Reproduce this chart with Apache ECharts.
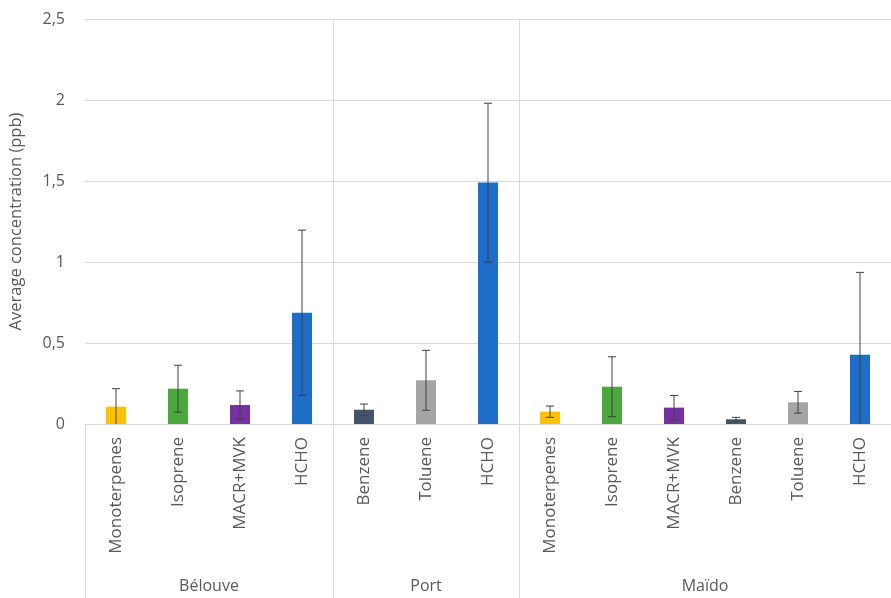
<!DOCTYPE html>
<html>
<head>
<meta charset="utf-8">
<script src="https://cdn.jsdelivr.net/npm/echarts@6/dist/echarts.min.js"></script>
<style>
  html, body { margin: 0; padding: 0; background: #fff; }
  #chart { width: 891px; height: 598px; }
</style>
</head>
<body>
<div id="chart"></div>
<script>
// Compounds measured at each site (site order: Bélouve, Port, Maïdo)
const categories = [
  'Monoterpenes', 'Isoprene', 'MACR+MVK', 'HCHO',
  'Benzene', 'Toluene', 'HCHO',
  'Monoterpenes', 'Isoprene', 'MACR+MVK', 'Benzene', 'Toluene', 'HCHO'
];
const sites = ['Bélouve', 'Port', 'Maïdo'];
const siteSizes = [4, 3, 6];

// Mean concentrations (ppb) and standard deviations
const means = [0.107, 0.218, 0.117, 0.687, 0.088, 0.27, 1.49, 0.076, 0.23, 0.101, 0.029, 0.134, 0.428];
const stdDevs = [0.111, 0.145, 0.087, 0.51, 0.035, 0.185, 0.49, 0.035, 0.185, 0.075, 0.012, 0.067, 0.508];

const yTicks = [0, 0.5, 1, 1.5, 2, 2.5];

// Colour per compound
const compoundColors = {
  'Monoterpenes': '#FFC000',
  'Isoprene': '#4AA83C',
  'MACR+MVK': '#7530A3',
  'HCHO': '#1E6DC8',
  'Benzene': '#44546A',
  'Toluene': '#A5A5A5'
};

const FONT = '"Open Sans", "Noto Sans", sans-serif';
const TEXT = '#595959';
const LINE = '#d9d9d9';

const chart = echarts.init(document.getElementById('chart'), null, { renderer: 'canvas' });

const barData = means.map((v, i) => ({
  value: v,
  itemStyle: { color: compoundColors[categories[i]] }
}));
const errData = means.map((v, i) => [i, v, stdDevs[i]]);

const option = {
  animation: false,
  backgroundColor: '#fff',
  grid: { left: 80, top: 19, width: 823, bottom: 174, containLabel: false },
  xAxis: {
    type: 'category',
    data: categories,
    axisLine: { show: true, lineStyle: { color: LINE, width: 1 } },
    axisTick: { show: false },
    axisLabel: {
      rotate: 90, margin: 13, interval: 0,
      color: TEXT, fontFamily: FONT, fontSize: 17
    },
    splitLine: { show: false }
  },
  yAxis: {
    type: 'value',
    min: yTicks[0], max: yTicks[yTicks.length - 1], interval: 0.5,
    name: 'Average concentration (ppb)',
    nameLocation: 'middle', nameRotate: 90, nameGap: 60,
    nameTextStyle: { color: TEXT, fontFamily: FONT, fontSize: 16.5 },
    axisLine: { show: false },
    axisTick: { show: false },
    axisLabel: {
      margin: 20, color: TEXT, fontFamily: FONT, fontSize: 16,
      formatter: v => String(v).replace('.', ',')
    },
    splitLine: { lineStyle: { color: LINE, width: 1 } }
  },
  series: [
    {
      type: 'bar',
      data: barData,
      barWidth: 20
    },
    {
      type: 'custom',
      data: errData,
      z: 5,
      renderItem: function (params, api) {
        const i = api.value(0);
        const m = api.value(1);
        const s = api.value(2);
        const hi = api.coord([i, m + s]);
        const lo = api.coord([i, Math.max(0, m - s)]);
        const cap = 4;
        const style = { stroke: '#404040', lineWidth: 1 };
        const children = [
          { type: 'line', shape: { x1: hi[0], y1: hi[1], x2: lo[0], y2: lo[1] }, style: style },
          { type: 'line', shape: { x1: hi[0] - cap, y1: hi[1], x2: hi[0] + cap, y2: hi[1] }, style: style }
        ];
        if (m - s > 0) {
          children.push({ type: 'line', shape: { x1: lo[0] - cap, y1: lo[1], x2: lo[0] + cap, y2: lo[1] }, style: style });
        }
        return { type: 'group', children: children };
      }
    }
  ]
};

chart.setOption(option);

// Site separators and site names under the compound labels
const c0 = chart.convertToPixel({ xAxisIndex: 0 }, 0);
const c1 = chart.convertToPixel({ xAxisIndex: 0 }, 1);
const band = c1 - c0;
const edge = idx => c0 - band / 2 + idx * band;
const yTop = chart.convertToPixel({ yAxisIndex: 0 }, yTicks[yTicks.length - 1]);
const yBase = chart.convertToPixel({ yAxisIndex: 0 }, 0);
const H = 598;

const graphics = [];
let start = 0;
sites.forEach((name, k) => {
  const end = start + siteSizes[k];
  const x0 = Math.round(edge(start)) + 0.5;
  graphics.push({
    type: 'line',
    shape: { x1: x0, y1: start === 0 ? yBase : yTop, x2: x0, y2: H },
    style: { stroke: LINE, lineWidth: 1 },
    silent: true
  });
  graphics.push({
    type: 'text',
    x: (edge(start) + edge(end)) / 2,
    y: 586,
    style: {
      text: name, fill: TEXT, font: '16px ' + FONT,
      textAlign: 'center', textVerticalAlign: 'middle'
    },
    silent: true
  });
  start = end;
});
graphics.push({
  type: 'line',
  shape: { x1: Math.round(edge(start)) + 0.5, y1: yTop, x2: Math.round(edge(start)) + 0.5, y2: H },
  style: { stroke: LINE, lineWidth: 1 },
  silent: true
});

chart.setOption({ graphic: graphics });
</script>
</body>
</html>
